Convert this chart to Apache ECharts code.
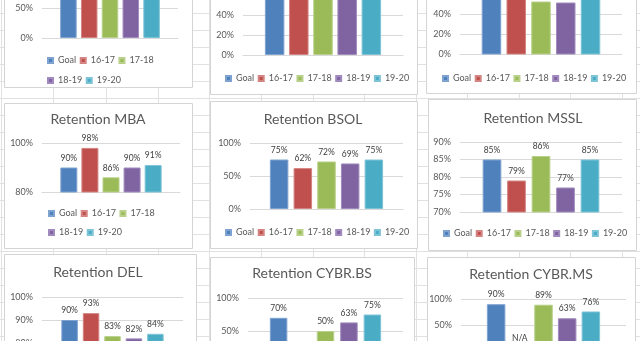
<!DOCTYPE html>
<html><head><meta charset="utf-8">
<script src="https://cdn.jsdelivr.net/npm/echarts@6/dist/echarts.min.js"></script>
<style>html,body{margin:0;padding:0;background:#fff;overflow:hidden}#c{width:640px;height:341px}</style>
</head><body><div id="c"></div>
<script>
// ---- data ----
const seriesNames = ['Goal', '16-17', '17-18', '18-19', '19-20'];
const panelTitles = ['', '', '', 'Retention MBA', 'Retention BSOL', 'Retention MSSL', 'Retention DEL', 'Retention CYBR.BS', 'Retention CYBR.MS'];
const panel1Values = [0.80, 0.76, 0.78, 0.75, 0.80];
const panel2Values = [0.80, 0.78, 0.80, 0.76, 0.82];
const panel3Values = [0.70, 0.66, 0.53, 0.52, 0.68];
const mbaValues = [0.90, 0.98, 0.86, 0.90, 0.91];
const bsolValues = [0.75, 0.62, 0.72, 0.69, 0.75];
const msslValues = [0.85, 0.79, 0.86, 0.77, 0.85];
const delValues = [0.90, 0.93, 0.83, 0.82, 0.84];
const cybrBsValues = [0.70, null, 0.50, 0.63, 0.75];
const cybrMsValues = [0.90, null, 0.89, 0.63, 0.76];
const panel1Ticks = [0, 0.5, 1.0];
const panel2Ticks = [0, 0.2, 0.4, 0.6, 0.8, 1.0];
const panel3Ticks = [0, 0.2, 0.4, 0.6, 0.8, 1.0];
const mbaTicks = [0.8, 1.0];
const bsolTicks = [0, 0.5, 1.0];
const msslTicks = [0.70, 0.75, 0.80, 0.85, 0.90];
const delTicks = [0.7, 0.8, 0.9, 1.0];
const cybrBsTicks = [0, 0.5, 1.0];
const cybrMsTicks = [0, 0.5, 1.0];
const naLabel = 'N/A';

// ---- styling / layout ----
const FONT = 'Lato';
const colors = ['#4F81BD', '#C0504D', '#9BBB59', '#8064A2', '#4BACC6'];
const borders = ['#7FA3D1', '#D48583', '#B8D08A', '#A18BBE', '#7EC4D7'];
const oneRow = (x, y) => [[x, y, 0, 5]];
const twoRows = (x, y1, y2) => [[x, y1, 0, 3], [x, y2, 3, 5]];
const panels = [
  {vals: panel1Values, ticks: panel1Ticks, box: [4, -5, 188, 92], grid: [42, -22, 136, 60], bw: 16.5, gap: '26%', title: null, legend: twoRows(47, 56, 76)},
  {vals: panel2Values, ticks: panel2Ticks, box: [210, -5, 207, 99], grid: [243, -45, 160, 100], bw: 19.5, gap: '24%', title: null, legend: oneRow(225, 74)},
  {vals: panel3Values, ticks: panel3Ticks, box: [426, -5, 210, 98], grid: [460, -45.5, 162, 100], bw: 19.5, gap: '27%', title: null, legend: oneRow(442, 74)},
  {vals: mbaValues, ticks: mbaTicks, box: [4, 103, 188, 145], grid: [42, 143, 138, 49], bw: 17, gap: '24%', title: [98, 120], legend: twoRows(48, 209, 228)},
  {vals: bsolValues, ticks: bsolTicks, box: [210, 101, 207, 147], grid: [250, 143, 153, 66], bw: 18.5, gap: '28%', title: [313, 120], legend: oneRow(225, 228)},
  {vals: msslValues, ticks: msslTicks, box: [428, 99, 208, 151], grid: [460, 142, 162, 70], bw: 18.7, gap: '31%', title: [533, 119], legend: oneRow(443, 229)},
  {vals: delValues, ticks: delTicks, box: [4, 254, 192, 100], grid: [42, 297, 141, 69], bw: 16.5, gap: '30%', title: [98, 273], legend: []},
  {vals: cybrBsValues, ticks: cybrBsTicks, box: [210, 257, 204, 100], grid: [248, 298, 155, 66], bw: 17.5, gap: '34%', title: [312, 274], legend: []},
  {vals: cybrMsValues, ticks: cybrMsTicks, box: [427, 257, 208, 100], grid: [461, 299, 165, 52], bw: 18.5, gap: '28%', title: [531, 275], legend: []}
];
const colLines = [1, 53, 106, 158, 209, 261, 313, 364, 416, 467, 519, 570, 622];
const rowLines = [13, 30, 47, 64, 81, 98, 115, 132, 149, 166, 183, 200, 217, 234, 251, 268, 285, 302, 319, 336];

const pct = v => Math.round(v * 100) + '%';

const graphic = [];
colLines.forEach(x => graphic.push({type: 'line', z: -20, silent: true, shape: {x1: x + 0.5, y1: 0, x2: x + 0.5, y2: 341}, style: {stroke: '#e1e1e1', lineWidth: 1}}));
rowLines.forEach(y => graphic.push({type: 'line', z: -20, silent: true, shape: {x1: 0, y1: y + 0.5, x2: 640, y2: y + 0.5}, style: {stroke: '#e1e1e1', lineWidth: 1}}));
panels.forEach(p => graphic.push({type: 'rect', z: -10, silent: true, shape: {x: p.box[0] + 0.5, y: p.box[1] + 0.5, width: p.box[2], height: p.box[3]}, style: {fill: '#fff', stroke: '#d4d4d4', lineWidth: 1}}));

const grid = [], xAxis = [], yAxis = [], series = [], title = [], legend = [];
panels.forEach((p, pi) => {
  grid.push({left: p.grid[0], top: p.grid[1], width: p.grid[2], height: p.grid[3], containLabel: false, outerBoundsMode: 'none'});
  xAxis.push({type: 'category', gridIndex: pi, data: [''], axisLine: {lineStyle: {color: '#d9d9d9'}}, axisTick: {show: false}, axisLabel: {show: false}});
  const t = p.ticks;
  yAxis.push({type: 'value', gridIndex: pi, min: t[0], max: t[t.length - 1], interval: +(t[1] - t[0]).toFixed(4),
    axisLine: {show: false}, axisTick: {show: false},
    splitLine: {lineStyle: {color: '#d9d9d9', width: 1}},
    axisLabel: {formatter: pct, fontSize: 9, color: '#595959', margin: 9, fontFamily: FONT}});
  p.vals.forEach((v, i) => {
    const item = v === null
      ? {value: 0, itemStyle: {borderWidth: 0}, label: {formatter: naLabel, distance: 8}}
      : {value: v};
    series.push({type: 'bar', name: seriesNames[i], xAxisIndex: pi, yAxisIndex: pi, data: [item],
      barWidth: p.bw, barGap: p.gap, animation: false,
      itemStyle: {color: colors[i], borderColor: borders[i], borderWidth: 1},
      label: {show: true, position: 'top', distance: 5, fontSize: 8.5, color: '#404040', fontFamily: FONT, formatter: o => pct(o.value)}});
  });
  if (p.title) title.push({text: panelTitles[pi], left: p.title[0], top: p.title[1] - 8, textAlign: 'center', padding: 0,
    textStyle: {fontSize: 14, fontWeight: 'normal', color: '#595959', fontFamily: FONT}});
  p.legend.forEach(r => legend.push({data: seriesNames.slice(r[2], r[3]), left: r[0], top: r[1], padding: 0,
    icon: 'rect', itemWidth: 5, itemHeight: 5, itemGap: 3.5, selectedMode: false,
    textStyle: {fontSize: 9, color: '#595959', fontFamily: FONT}}));
});

const chart = echarts.init(document.getElementById('c'), null, {renderer: 'canvas'});
chart.setOption({backgroundColor: '#fff', animation: false, graphic: graphic, title: title, legend: legend, grid: grid, xAxis: xAxis, yAxis: yAxis, series: series});
</script>
</body></html>
